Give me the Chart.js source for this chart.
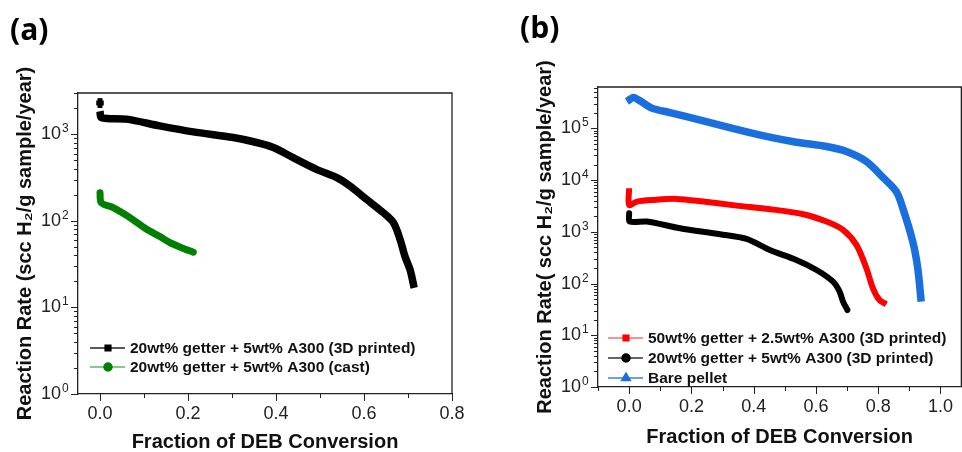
<!DOCTYPE html>
<html>
<head>
<meta charset="utf-8">
<script src="https://cdn.jsdelivr.net/npm/chart.js@4.4.0/dist/chart.umd.min.js"></script>
<style>
    body { margin: 0; background: #fff; width: 962px; height: 452px; overflow: hidden; position: relative; }
    .panel { position: absolute; top: 0; height: 452px; }
    #wrapA { left: 0; width: 480px; }
    #wrapB { left: 480px; width: 482px; }
    .tag { position: absolute; font-family: "Open Sans", sans-serif; font-weight: bold; font-size: 30px; line-height: 30px; color: #000; }
</style>
</head>
<body>
<div class="panel" id="wrapA"><canvas id="chartA"></canvas></div>
<div class="panel" id="wrapB"><canvas id="chartB"></canvas></div>
<div class="tag" style="left:10px;top:14px">(a)</div>
<div class="tag" style="left:520px;top:12px">(b)</div>
<script>
// panel (a)
var printedA_x = [0, 0, 0, 0, 0.003, 0.06, 0.136, 0.212, 0.303, 0.356, 0.394, 0.439, 0.492, 0.538, 0.568, 0.606, 0.644, 0.667, 0.682, 0.693, 0.705, 0.714];
var printedA_y = [2450, 2150, null, 1850, 1560, 1496, 1250, 1066, 918, 804, 703, 538, 394, 316, 253, 177, 124, 95, 61, 39, 27, 16.8];
var castA_x = [0, 0.003, 0.03, 0.068, 0.106, 0.136, 0.159, 0.185, 0.212];
var castA_y = [211, 162, 142, 109, 80, 66, 56, 49, 43.4];

// panel (b)
var getter50_x = [0, 0, 0.025, 0.078, 0.153, 0.238, 0.345, 0.452, 0.559, 0.634, 0.687, 0.73, 0.762, 0.783, 0.804, 0.826];
var getter50_y = [6970, 3310, 3840, 4140, 4330, 3840, 3210, 2740, 2190, 1580, 1090, 558, 198, 81, 48, 39.8];
var getter20_x = [0, 0.002, 0.057, 0.163, 0.292, 0.377, 0.452, 0.537, 0.602, 0.655, 0.676, 0.687, 0.701];
var getter20_y = [2290, 1580, 1580, 1170, 897, 730, 446, 286, 183, 109, 70, 44.7, 30.8];
var bare_x = [-0.007, 0.014, 0.035, 0.073, 0.131, 0.238, 0.345, 0.452, 0.537, 0.634, 0.698, 0.762, 0.815, 0.858, 0.879, 0.911, 0.927, 0.938];
var bare_y = [330000, 394000, 340000, 246000, 202000, 140000, 96000, 67600, 54000, 44500, 35600, 22800, 11300, 6000, 2860, 646, 198, 44.7];

var labelsA = ['20wt% getter + 5wt% A300 (3D printed)', '20wt% getter + 5wt% A300 (cast)'];
var labelsB = ['50wt% getter + 2.5wt% A300 (3D printed)', '20wt% getter + 5wt% A300 (3D printed)', 'Bare pellet'];
var decadeTicksA = [1, 10, 100, 1000];
var decadeTicksB = [1, 10, 100, 1000, 10000, 100000];
var xTicksA = [0, 0.2, 0.4, 0.6, 0.8];
var xTicksB = [0, 0.2, 0.4, 0.6, 0.8, 1.0];

function toPoints(xs, ys) {
    return xs.map(function (x, i) { return { x: x, y: ys[i] }; });
}

// frame top/right, outward tick marks, exponents of the y labels and the inside legend
var frameTicks = {
    id: 'frameTicks',
    afterDraw: function (chart, args, opts) {
        var ctx = chart.ctx, a = chart.chartArea;
        var xs = chart.scales.x, ys = chart.scales.y;
        ctx.save();
        ctx.strokeStyle = '#222';
        ctx.lineWidth = 1.3;
        ctx.beginPath();
        ctx.moveTo(a.left, a.top);
        ctx.lineTo(a.right, a.top);
        ctx.lineTo(a.right, a.bottom);
        ctx.stroke();

        ctx.lineWidth = 1;
        ctx.beginPath();
        for (var e = 0; e < 7; e++) {
            for (var m = 1; m < 10; m++) {
                var v = m * Math.pow(10, e);
                if (v > ys.max) break;
                var py = Math.round(ys.getPixelForValue(v)) + 0.5;
                ctx.moveTo(a.left - (m === 1 ? 7 : 4), py);
                ctx.lineTo(a.left, py);
            }
        }
        opts.xMajor.forEach(function (v) {
            var px = Math.round(xs.getPixelForValue(v)) + 0.5;
            ctx.moveTo(px, a.bottom); ctx.lineTo(px, a.bottom + 7);
        });
        opts.xMinor.forEach(function (v) {
            var px = Math.round(xs.getPixelForValue(v)) + 0.5;
            ctx.moveTo(px, a.bottom); ctx.lineTo(px, a.bottom + 4);
        });
        ctx.stroke();

        // exponents next to the "10" tick labels
        ctx.font = '12px "Liberation Sans", Arial, sans-serif';
        ctx.fillStyle = '#222';
        ctx.textAlign = 'left';
        ctx.textBaseline = 'alphabetic';
        ys.ticks.forEach(function (t) {
            var py = ys.getPixelForValue(t.value);
            ctx.fillText(String(Math.round(Math.log10(t.value))), a.left - opts.yPad + 1, py - 2);
        });

        // legend
        var L = opts.legend;
        ctx.font = 'bold 15.5px "Liberation Sans", Arial, sans-serif';
        ctx.textBaseline = 'middle';
        chart.data.datasets.forEach(function (ds, i) {
            var y = L.y + i * L.dy;
            ctx.strokeStyle = ds.legendLine;
            ctx.lineWidth = 1.5;
            ctx.beginPath();
            ctx.moveTo(L.x, y); ctx.lineTo(L.x + 35, y);
            ctx.stroke();
            ctx.fillStyle = ds.borderColor;
            ctx.strokeStyle = ds.borderColor;
            Chart.helpers.drawPoint(ctx, { pointStyle: ds.legendStyle, radius: ds.legendStyle === 'triangle' ? 5 : 4, rotation: 0, borderWidth: 1 }, L.x + 18, y);
            ctx.fillStyle = '#111';
            ctx.fillText(ds.label, L.x + 40, y + 1);
        });
        ctx.restore();
    }
};

var tickFont = { family: '"Liberation Sans", Arial, sans-serif', size: 18 };
var titleFont = { family: '"Liberation Sans", Arial, sans-serif', size: 20, weight: 'bold', lineHeight: 1 };

function makeOptions(cfg) {
    return {
        responsive: true,
        maintainAspectRatio: false,
        animation: false,
        layout: { padding: cfg.padding },
        plugins: {
            legend: { display: false },
            tooltip: { enabled: false },
            frameTicks: { xMajor: cfg.xTicks, xMinor: cfg.xMinor, legend: cfg.legend, yPad: 17 }
        },
        scales: {
            x: {
                type: 'linear',
                min: cfg.xMin,
                max: cfg.xMax,
                afterBuildTicks: function (scale) {
                    scale.ticks = cfg.xTicks.map(function (v) { return { value: v }; });
                },
                afterFit: function (scale) { scale.height = cfg.xHeight; },
                grid: { display: false, drawTicks: false },
                border: { display: true, color: '#222', width: 1.3 },
                ticks: {
                    font: tickFont,
                    color: '#222',
                    padding: 9,
                    callback: function (v) { return v.toFixed(1); }
                },
                title: {
                    display: true,
                    text: 'Fraction of DEB Conversion',
                    font: titleFont,
                    color: '#111',
                    padding: { top: 0, bottom: cfg.xTitlePad }
                }
            },
            y: {
                type: 'logarithmic',
                min: 1,
                max: cfg.yMax,
                afterBuildTicks: function (scale) {
                    scale.ticks = cfg.yTicks.map(function (v) { return { value: v }; });
                },
                afterFit: function (scale) { scale.width = cfg.yWidth; },
                grid: { display: false, drawTicks: false },
                border: { display: true, color: '#222', width: 1.3 },
                ticks: {
                    font: tickFont,
                    color: '#222',
                    padding: 17,
                    callback: function () { return '10'; }
                },
                title: {
                    display: true,
                    text: cfg.yTitle,
                    font: titleFont,
                    color: '#111',
                    padding: { top: cfg.yTitlePad, bottom: 0 }
                }
            }
        }
    };
}

new Chart(document.getElementById('chartA').getContext('2d'), {
    type: 'scatter',
    data: {
        datasets: [{
            label: labelsA[0],
            data: toPoints(printedA_x, printedA_y),
            showLine: true,
            tension: 0.3,
            borderColor: '#000',
            backgroundColor: '#000',
            legendLine: '#222',
            legendStyle: 'rect',
            borderWidth: 7.5,
            borderCapStyle: 'butt',
            borderJoinStyle: 'round',
            pointStyle: 'rect',
            pointRadius: function (c) { return c.dataIndex < 2 ? 3.5 : 0; },
            pointBorderWidth: 0
        }, {
            label: labelsA[1],
            data: toPoints(castA_x, castA_y),
            showLine: true,
            tension: 0.3,
            borderColor: '#008000',
            backgroundColor: '#008000',
            legendLine: '#5cb85c',
            legendStyle: 'circle',
            borderWidth: 7,
            borderCapStyle: 'round',
            borderJoinStyle: 'round',
            pointRadius: 0
        }]
    },
    options: makeOptions({
        padding: { left: 0, top: 93, right: 28, bottom: 0 },
        xMin: -0.05, xMax: 0.8, xTicks: xTicksA, xMinor: [0.1, 0.3, 0.5, 0.7],
        xHeight: 58, xTitlePad: 0,
        yMax: 3000, yTicks: decadeTicksA, yWidth: 78, yTitlePad: 15,
        yTitle: 'Reaction Rate (scc H\u2082/g sample/year)',
        legend: { x: 90, y: 348, dy: 19 }
    }),
    plugins: [frameTicks]
});

new Chart(document.getElementById('chartB').getContext('2d'), {
    type: 'scatter',
    data: {
        datasets: [{
            label: labelsB[0],
            data: toPoints(getter50_x, getter50_y),
            showLine: true,
            tension: 0.3,
            borderColor: '#ff0000',
            backgroundColor: '#ff0000',
            legendLine: '#ff6b6b',
            legendStyle: 'rect',
            borderWidth: 6,
            borderCapStyle: 'butt',
            borderJoinStyle: 'round',
            pointRadius: 0
        }, {
            label: labelsB[1],
            data: toPoints(getter20_x, getter20_y),
            showLine: true,
            tension: 0.3,
            borderColor: '#000',
            backgroundColor: '#000',
            legendLine: '#333',
            legendStyle: 'circle',
            borderWidth: 6,
            borderCapStyle: 'round',
            borderJoinStyle: 'round',
            pointRadius: 0
        }, {
            label: labelsB[2],
            data: toPoints(bare_x, bare_y),
            showLine: true,
            tension: 0.3,
            borderColor: '#1a6fdf',
            backgroundColor: '#1a6fdf',
            legendLine: '#3a80e8',
            legendStyle: 'triangle',
            borderWidth: 7.5,
            borderCapStyle: 'butt',
            borderJoinStyle: 'round',
            pointRadius: 0
        }]
    },
    options: makeOptions({
        padding: { left: 0, top: 87, right: 0, bottom: 0 },
        xMin: -0.1, xMax: 1.067, xTicks: xTicksB, xMinor: [-0.1, 0.1, 0.3, 0.5, 0.7, 0.9],
        xHeight: 65, xTitlePad: 5,
        yMax: 630000, yTicks: decadeTicksB, yWidth: 118, yTitlePad: 55,
        yTitle: 'Reaction Rate( scc H\u2082/g sample/year)',
        legend: { x: 128, y: 338, dy: 20 }
    }),
    plugins: [frameTicks]
});
</script>
</body>
</html>
